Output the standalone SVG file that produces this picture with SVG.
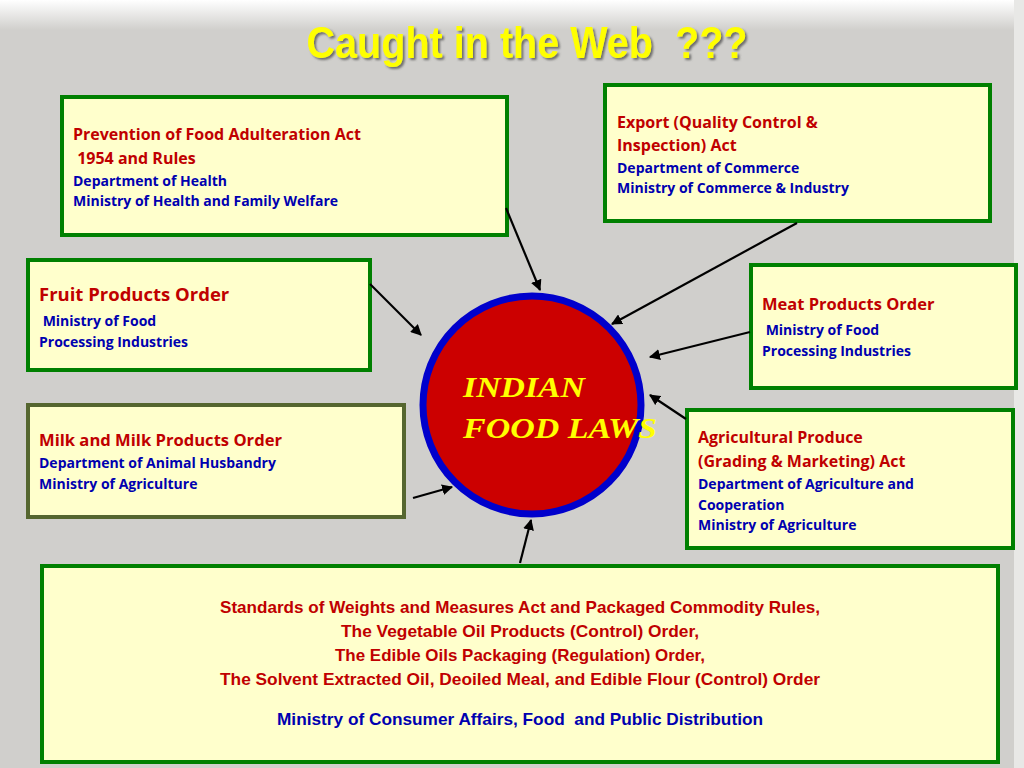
<svg xmlns="http://www.w3.org/2000/svg" width="1024" height="768" viewBox="0 0 1024 768">
<defs>
<linearGradient id="bgTop" x1="0" y1="0" x2="0" y2="1">
<stop offset="0" stop-color="#ffffff"/>
<stop offset="1" stop-color="#d0cfcc"/>
</linearGradient>
<marker id="ah" viewBox="0 0 10 10" refX="9" refY="5" markerWidth="5" markerHeight="5" orient="auto" markerUnits="strokeWidth">
<path d="M0,0 L10,5 L0,10 Z" fill="#000"/>
</marker>
<filter id="sh" x="-5%" y="-20%" width="110%" height="140%">
<feDropShadow dx="2" dy="2" stdDeviation="1" flood-color="#555" flood-opacity="0.8"/>
</filter>
</defs>
<style>
.box{fill:#ffffcc;stroke:#008000;stroke-width:4}
.olive{stroke:#55662f}
.t{font-family:"Open Sans","Liberation Sans",sans-serif;font-weight:bold}
.red{fill:#c00000;font-size:16px}
.redL{fill:#c00000;font-size:17px}
.blue{fill:#0000b0;font-size:14px}
.conn line{stroke:#000;stroke-width:2.2;marker-end:url(#ah)}
</style>
<rect width="1024" height="768" fill="#d0cfcc"/>
<rect width="1024" height="30" fill="url(#bgTop)"/>
<rect x="1014" y="0" width="10" height="768" fill="#e8e8e6"/>
<text x="527" y="58" text-anchor="middle" font-family="Liberation Sans, Arial, sans-serif" font-weight="bold" font-size="44" fill="#ffff00" filter="url(#sh)" textLength="441" lengthAdjust="spacingAndGlyphs" xml:space="preserve">Caught in the Web  ???</text>

<g id="pfa">
<rect class="box" x="62" y="97" width="445" height="138"/>
<text class="t red" x="73" y="140">Prevention of Food Adulteration Act</text>
<text class="t red" x="73" y="164" xml:space="preserve"> 1954 and Rules</text>
<text class="t blue" x="73" y="186">Department of Health</text>
<text class="t blue" x="73" y="206">Ministry of Health and Family Welfare</text>
</g>

<g id="export">
<rect class="box" x="605" y="85" width="385" height="136"/>
<text class="t red" x="617" y="128">Export (Quality Control &amp;</text>
<text class="t red" x="617" y="151">Inspection) Act</text>
<text class="t blue" x="617" y="173">Department of Commerce</text>
<text class="t blue" x="617" y="193">Ministry of Commerce &amp; Industry</text>
</g>

<g id="fruit">
<rect class="box" x="28" y="260" width="342" height="110"/>
<text class="t" x="39" y="301" fill="#c00000" font-size="18.5">Fruit Products Order</text>
<text class="t blue" x="39" y="326" xml:space="preserve"> Ministry of Food</text>
<text class="t blue" x="39" y="347">Processing Industries</text>
</g>

<g id="meat">
<rect class="box" x="751" y="265" width="265" height="123"/>
<text class="t" x="762" y="310" fill="#c00000" font-size="16.5">Meat Products Order</text>
<text class="t blue" x="762" y="335" xml:space="preserve"> Ministry of Food</text>
<text class="t blue" x="762" y="356">Processing Industries</text>
</g>

<g id="milk">
<rect class="box olive" x="28" y="405" width="376" height="112"/>
<text class="t" x="39" y="446" fill="#c00000" font-size="16.6">Milk and Milk Products Order</text>
<text class="t blue" x="39" y="468">Department of Animal Husbandry</text>
<text class="t blue" x="39" y="489">Ministry of Agriculture</text>
</g>

<g id="agri">
<rect class="box" x="687" y="410" width="326" height="138"/>
<text class="t red" x="698" y="443">Agricultural Produce</text>
<text class="t red" x="698" y="467">(Grading &amp; Marketing) Act</text>
<text class="t blue" x="698" y="489">Department of Agriculture and</text>
<text class="t blue" x="698" y="510">Cooperation</text>
<text class="t blue" x="698" y="530">Ministry of Agriculture</text>
</g>

<g id="standards">
<rect class="box" x="42" y="566" width="956" height="196"/>
<g text-anchor="middle" font-family="Liberation Sans Narrow, Liberation Sans, sans-serif" font-weight="bold">
<text x="520" y="613" fill="#c00000" font-size="16.5" textLength="600" lengthAdjust="spacingAndGlyphs">Standards of Weights and Measures Act and Packaged Commodity Rules,</text>
<text x="520" y="637" fill="#c00000" font-size="16.5" textLength="358" lengthAdjust="spacingAndGlyphs">The Vegetable Oil Products (Control) Order,</text>
<text x="520" y="661" fill="#c00000" font-size="16.5" textLength="370" lengthAdjust="spacingAndGlyphs">The Edible Oils Packaging (Regulation) Order,</text>
<text x="520" y="685" fill="#c00000" font-size="16.5" textLength="600" lengthAdjust="spacingAndGlyphs">The Solvent Extracted Oil, Deoiled Meal, and Edible Flour (Control) Order</text>
<text x="520" y="725" fill="#0000b0" font-size="16.5" textLength="486" lengthAdjust="spacingAndGlyphs" xml:space="preserve">Ministry of Consumer Affairs, Food  and Public Distribution</text>
</g>
</g>

<g id="center">
<circle cx="532" cy="405" r="109" fill="#cc0000" stroke="#0000cc" stroke-width="7"/>
<text x="463" y="397" font-family="Liberation Serif, Times New Roman, serif" font-style="italic" font-weight="bold" font-size="30" fill="#ffff00" textLength="122" lengthAdjust="spacingAndGlyphs">INDIAN</text>
<text x="463" y="438" font-family="Liberation Serif, Times New Roman, serif" font-style="italic" font-weight="bold" font-size="30" fill="#ffff00" textLength="194" lengthAdjust="spacingAndGlyphs">FOOD LAWS</text>
</g>

<g id="connectors" class="conn">
<line x1="506" y1="208" x2="540" y2="290"/>
<line x1="797" y1="223" x2="612" y2="324"/>
<line x1="370" y1="284" x2="421" y2="335"/>
<line x1="750" y1="332" x2="650" y2="357"/>
<line x1="686" y1="419" x2="650" y2="395"/>
<line x1="413" y1="498" x2="452" y2="487"/>
<line x1="520" y1="563" x2="531" y2="520"/>
</g>
</svg>
